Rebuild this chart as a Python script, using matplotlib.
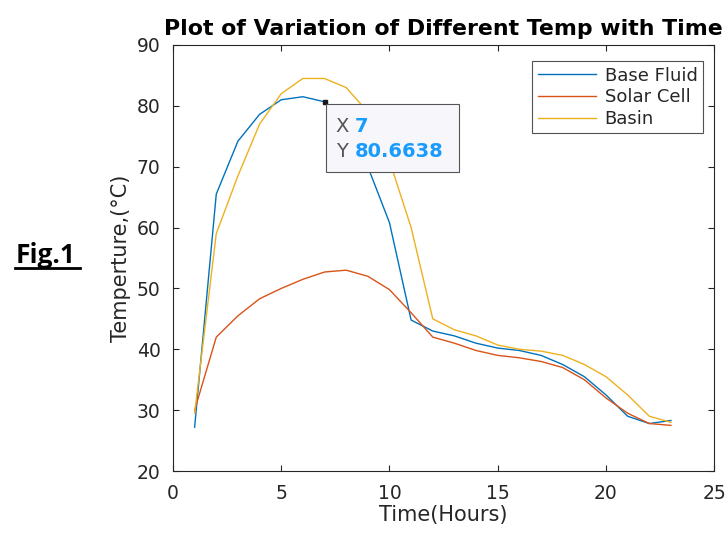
import numpy as np
import matplotlib
matplotlib.use('Agg')
import matplotlib.pyplot as plt
from matplotlib.patches import Rectangle
from matplotlib.lines import Line2D

# Data
hours = list(range(1, 24))
base_fluid = [27.2, 65.5, 74.2, 78.6, 81.0, 81.5, 80.6638, 77.0, 70.0, 60.8, 44.8,
              43.0, 42.2, 41.0, 40.2, 39.8, 39.0, 37.5, 35.5, 32.5, 29.0, 27.8, 28.3]
solar_cell = [30.0, 42.0, 45.5, 48.3, 50.0, 51.5, 52.7, 53.0, 52.0, 49.8, 46.0,
              42.0, 41.0, 39.8, 39.0, 38.6, 38.0, 37.0, 35.0, 32.0, 29.5, 27.8, 27.5]
basin = [29.5, 59.0, 68.5, 77.0, 82.0, 84.5, 84.5, 83.0, 79.0, 71.0, 60.0,
         45.0, 43.2, 42.2, 40.7, 40.0, 39.7, 39.0, 37.5, 35.5, 32.5, 29.0, 28.0]
series_names = ['Base Fluid', 'Solar Cell', 'Basin']
series_colors = ['#0072BD', '#D95319', '#EDB120']
tip_x, tip_y = 7, 80.6638

txt = '#262626'
plt.rcParams['font.family'] = ['DejaVu Sans']

fig = plt.figure(figsize=(7.28, 5.35), dpi=100)
ax = fig.add_axes([0.2376, 0.1196, 0.7435, 0.7963])

for vals, name, c in zip([base_fluid, solar_cell, basin], series_names, series_colors):
    ax.plot(hours, vals, color=c, lw=1.0, label=name)

ax.set_xlim(0, 25)
ax.set_ylim(20, 90)
ax.set_xticks(range(0, 26, 5))
ax.set_yticks(range(20, 91, 10))
ax.tick_params(direction='in', top=True, right=True, length=4, width=0.8,
               labelsize=13.5, colors=txt, labelcolor=txt)
ax.tick_params(axis='x', pad=9)
ax.tick_params(axis='y', pad=9)
for s in ax.spines.values():
    s.set_color(txt)
    s.set_linewidth(0.8)

ax.set_xlabel('Time(Hours)', fontsize=15, color=txt, labelpad=2)
ax.set_ylabel('Temperture,(\u00b0C)', fontsize=15, color=txt, labelpad=4)
ax.set_title('Plot of Variation of Different Temp with Time', fontsize=15.8,
             fontweight='bold', color='black', pad=7)

leg = ax.legend(loc='upper right', fontsize=13, frameon=True, fancybox=False,
                edgecolor=txt, borderpad=0.3, handlelength=3.2, labelspacing=0.2,
                handletextpad=0.5, borderaxespad=0.0, bbox_to_anchor=(0.979, 0.962))
leg.get_frame().set_linewidth(0.8)
for t in leg.get_texts():
    t.set_color(txt)

# data tip
ax.plot([tip_x], [tip_y], marker='s', color='#1a1a1a', ms=3.5, zorder=5)
box = Rectangle((0.283, 0.702), 0.246, 0.159, transform=ax.transAxes,
                facecolor='#f7f7fb', edgecolor='#555555', lw=0.8, zorder=6)
ax.add_patch(box)
ax.text(0.301, 0.808, 'X', transform=ax.transAxes, fontsize=14, color='#555555',
        va='center', zorder=7)
ax.text(0.335, 0.808, '%d' % tip_x, transform=ax.transAxes, fontsize=14,
        color='#1a9cff', fontweight='bold', va='center', zorder=7)
ax.text(0.301, 0.750, 'Y', transform=ax.transAxes, fontsize=14, color='#555555',
        va='center', zorder=7)
ax.text(0.335, 0.750, '%.4f' % tip_y, transform=ax.transAxes, fontsize=14,
        color='#1a9cff', fontweight='bold', va='center', zorder=7)

# Fig.1 label
fig.text(0.021, 0.508, 'Fig.1', fontsize=19, fontweight='bold', color='black',
         family=['Open Sans', 'DejaVu Sans'], va='baseline')
fig.add_artist(Line2D([0.021, 0.110], [0.499, 0.499], color='black', lw=2.0))

fig.savefig('out.png', dpi=100)
